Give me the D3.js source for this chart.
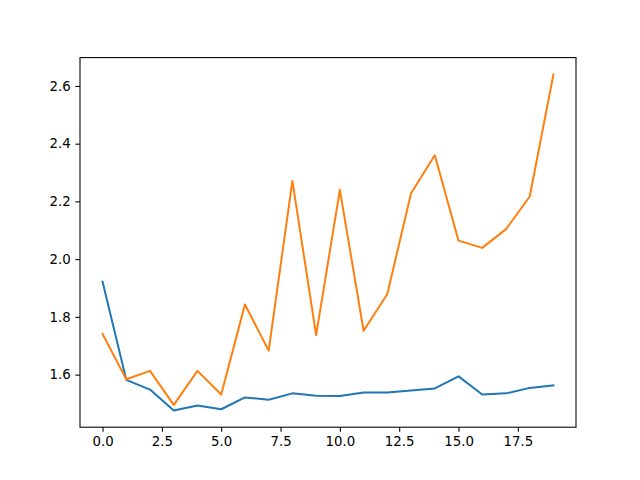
<!DOCTYPE html>
<html>
<head>
<meta charset="utf-8">
<script src="https://cdn.jsdelivr.net/npm/d3@7"></script>
<style>
  html, body { margin: 0; padding: 0; background: #fff; }
  svg { display: block; }
  .axis text { font-family: "DejaVu Sans", sans-serif; font-size: 13.33px; fill: #000; }
  .axis path, .axis line { stroke: #000; stroke-width: 1.07px; }
</style>
</head>
<body>
<svg id="chart" width="640" height="480"></svg>
<script>
const xValues = d3.range(20);
const seriesBlue = [1.922, 1.582, 1.548, 1.476, 1.493, 1.480, 1.521, 1.513, 1.535, 1.527,
                    1.526, 1.538, 1.538, 1.545, 1.552, 1.594, 1.531, 1.535, 1.554, 1.563];
const seriesOrange = [1.741, 1.584, 1.613, 1.495, 1.613, 1.531, 1.843, 1.683, 2.271, 1.737,
                      2.240, 1.752, 1.879, 2.228, 2.360, 2.064, 2.039, 2.104, 2.217, 2.640];
const xTicks = [0, 2.5, 5, 7.5, 10, 12.5, 15, 17.5];
const yTicks = [1.6, 1.8, 2.0, 2.2, 2.4, 2.6];
const colors = ["#1f77b4", "#ff7f0e"];

const plotLeft = 80, plotRight = 576, plotTop = 57.6, plotBottom = 427.2;

const svg = d3.select("#chart");

// matplotlib-like 5% margins
const xMin = d3.min(xValues), xMax = d3.max(xValues);
const xPad = (xMax - xMin) * 0.05;
const allY = seriesBlue.concat(seriesOrange);
const yMin = d3.min(allY), yMax = d3.max(allY);
const yPad = (yMax - yMin) * 0.05;

const x = d3.scaleLinear().domain([xMin - xPad, xMax + xPad]).range([plotLeft, plotRight]);
const y = d3.scaleLinear().domain([yMin - yPad, yMax + yPad]).range([plotBottom, plotTop]);

const line = d3.line().x((d, i) => x(xValues[i])).y(d => y(d));

[seriesBlue, seriesOrange].forEach((s, k) => {
  svg.append("path")
    .datum(s)
    .attr("fill", "none")
    .attr("stroke", colors[k])
    .attr("stroke-width", 2)
    .attr("stroke-linejoin", "round")
    .attr("stroke-linecap", "square")
    .attr("d", line);
});

const tickLen = 4.67, tickPad = 4.67;

svg.append("g")
  .attr("class", "axis")
  .attr("transform", `translate(0,${plotBottom})`)
  .call(d3.axisBottom(x).tickValues(xTicks).tickFormat(d3.format(".1f"))
        .tickSize(tickLen).tickPadding(tickPad).tickSizeOuter(0))
  .call(g => g.select(".domain").remove());

svg.append("g")
  .attr("class", "axis")
  .attr("transform", `translate(${plotLeft},0)`)
  .call(d3.axisLeft(y).tickValues(yTicks).tickFormat(d3.format(".1f"))
        .tickSize(tickLen).tickPadding(tickPad).tickSizeOuter(0))
  .call(g => g.select(".domain").remove());

// spines
svg.append("rect")
  .attr("x", plotLeft).attr("y", plotTop)
  .attr("width", plotRight - plotLeft).attr("height", plotBottom - plotTop)
  .attr("fill", "none").attr("stroke", "#000").attr("stroke-width", 1.07);
</script>
</body>
</html>
